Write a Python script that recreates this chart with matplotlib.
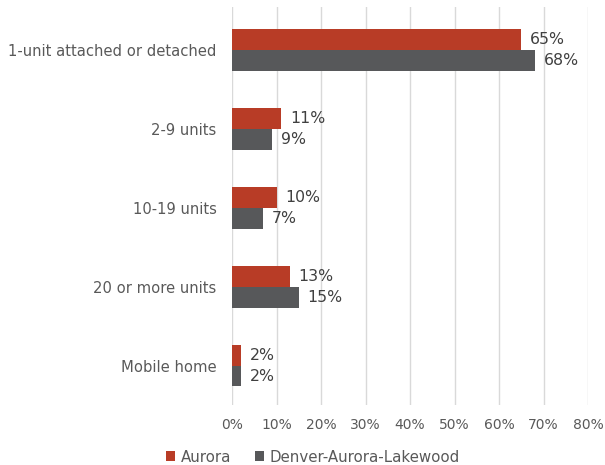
import matplotlib
matplotlib.use("Agg")
import matplotlib.pyplot as plt
import numpy as np

plt.rcParams['font.family'] = ['DejaVu Sans']

categories = ["1-unit attached or detached", "2-9 units", "10-19 units",
              "20 or more units", "Mobile home"]
aurora = [65, 11, 10, 13, 2]
denver = [68, 9, 7, 15, 2]
x_ticks = [0, 10, 20, 30, 40, 50, 60, 70, 80]

red = "#B83C26"
gray = "#57585A"
text_col = "#595959"

fig = plt.figure(figsize=(6.05, 4.65), dpi=100)
ax = fig.add_axes([232 / 605, 1 - 405 / 465, 356 / 605, 398 / 465])

y = np.arange(len(categories))
h = 0.265
ax.barh(y - h / 2, aurora, height=h, color=red, label="Aurora", zorder=3)
ax.barh(y + h / 2, denver, height=h, color=gray, label="Denver-Aurora-Lakewood", zorder=3)

# data labels
for i in range(len(categories)):
    ax.text(aurora[i] + 2.0, y[i] - h / 2, f"{aurora[i]}%", va="center", ha="left",
            fontsize=11.3, color="#404040")
    ax.text(denver[i] + 2.0, y[i] + h / 2, f"{denver[i]}%", va="center", ha="left",
            fontsize=11.3, color="#404040")

ax.set_yticks(y)
ax.set_yticklabels(categories, fontsize=10.6, color=text_col)
ax.set_ylim(len(categories) - 0.5, -0.55)
ax.set_xlim(0, 80)
ax.set_xticks(x_ticks)
ax.set_xticklabels([f"{t}%" for t in x_ticks], fontsize=10, color=text_col)
ax.tick_params(axis="y", length=0, pad=11)
ax.tick_params(axis="x", length=0, pad=9)
ax.grid(axis="x", color="#D9D9D9", linewidth=1, zorder=0)
for s in ax.spines.values():
    s.set_visible(False)

fig.legend(loc="center", bbox_to_anchor=(313 / 605, 1 - 457 / 465), ncol=2, frameon=False,
           fontsize=10.8, handlelength=0.6, handleheight=0.6, handletextpad=0.35,
           columnspacing=1.6, labelcolor=text_col)

fig.savefig("out.png", dpi=100)
